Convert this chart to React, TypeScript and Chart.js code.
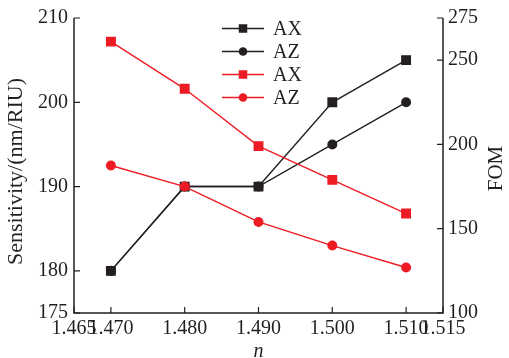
import React, { useEffect, useRef } from 'react';
import { Chart, registerables } from 'chart.js';

Chart.register(...registerables);

const nValues = [1.47, 1.48, 1.49, 1.5, 1.51];
const sensAX = [180, 190, 190, 200, 205];
const sensAZ = [180, 190, 190, 195, 200];
const fomAX = [261, 233, 199, 179, 159];
const fomAZ = [187.5, 175, 154, 140, 127];
const xTicks = [1.465, 1.47, 1.48, 1.49, 1.5, 1.51, 1.515];
const leftTicks = [175, 180, 190, 200, 210];
const rightTicks = [100, 150, 200, 250, 275];
const legendLabels = ['AX', 'AZ', 'AX', 'AZ'];
const xTitle = 'n';
const leftTitle = 'Sensitivity/(nm/RIU)';
const rightTitle = 'FOM';

const BLACK = '#231f20';
const RED = '#ed1c24';
const FONT = '"Liberation Serif", "Times New Roman", serif';

const legendItems = [
  { label: legendLabels[0], color: BLACK, style: 'rect' },
  { label: legendLabels[1], color: BLACK, style: 'circle' },
  { label: legendLabels[2], color: RED, style: 'rect' },
  { label: legendLabels[3], color: RED, style: 'circle' },
];

const axesPlugin = {
  id: 'axesPlugin',
  afterDraw(chart: any) {
    const ctx = chart.ctx;
    const { left, right, top, bottom } = chart.chartArea;
    const sx = chart.scales.x;
    const sy = chart.scales.y;
    const sy2 = chart.scales.y2;
    const tl = 6;
    ctx.save();
    ctx.strokeStyle = BLACK;
    ctx.lineWidth = 1.5;
    ctx.beginPath();
    ctx.moveTo(left, top);
    ctx.lineTo(left, bottom);
    ctx.lineTo(right, bottom);
    ctx.lineTo(right, top);
    ctx.stroke();
    ctx.lineWidth = 1.2;
    ctx.beginPath();
    xTicks.forEach((v) => {
      const px = sx.getPixelForValue(v);
      ctx.moveTo(px, bottom);
      ctx.lineTo(px, bottom - tl);
    });
    leftTicks.forEach((v) => {
      const py = sy.getPixelForValue(v);
      ctx.moveTo(left, py);
      ctx.lineTo(left + tl, py);
    });
    rightTicks.forEach((v) => {
      const py = sy2.getPixelForValue(v);
      ctx.moveTo(right, py);
      ctx.lineTo(right - tl, py);
    });
    ctx.stroke();

    // titles
    ctx.fillStyle = BLACK;
    ctx.textAlign = 'center';
    ctx.textBaseline = 'alphabetic';
    ctx.font = 'italic 20px ' + FONT;
    ctx.fillText(xTitle, (left + right) / 2, 357);

    const cy = (top + bottom) / 2;
    ctx.font = '22px ' + FONT;
    ctx.save();
    ctx.translate(16, cy + 6);
    ctx.rotate(-Math.PI / 2);
    ctx.textBaseline = 'middle';
    ctx.fillText(leftTitle, 0, 0);
    ctx.restore();

    ctx.font = '21px ' + FONT;
    ctx.save();
    ctx.translate(496, cy + 3);
    ctx.rotate(-Math.PI / 2);
    ctx.textBaseline = 'middle';
    ctx.fillText(rightTitle, 0, 0);
    ctx.restore();

    // legend
    const lx0 = left + 148;
    const lx1 = left + 190;
    const mx = (lx0 + lx1) / 2;
    ctx.font = '20px ' + FONT;
    ctx.textAlign = 'left';
    ctx.textBaseline = 'middle';
    legendItems.forEach((it, i) => {
      const y = top + 10.5 + i * 23;
      ctx.strokeStyle = it.color;
      ctx.lineWidth = 1.4;
      ctx.beginPath();
      ctx.moveTo(lx0, y);
      ctx.lineTo(lx1, y);
      ctx.stroke();
      ctx.fillStyle = it.color;
      if (it.style === 'rect') {
        ctx.fillRect(mx - 4.25, y - 4.25, 8.5, 8.5);
      } else {
        ctx.beginPath();
        ctx.arc(mx, y, 4.3, 0, Math.PI * 2);
        ctx.fill();
      }
      ctx.fillStyle = BLACK;
      ctx.fillText(it.label, lx1 + 9, y + 1);
    });
    ctx.restore();
  },
};

export default function App() {
  const ref = useRef<HTMLCanvasElement | null>(null);
  useEffect(() => {
    if (!ref.current) return;
    const mk = (vals: number[]) => nValues.map((x, i) => ({ x, y: vals[i] }));
    const chart = new Chart(ref.current, {
      type: 'line',
      data: {
        datasets: [
          {
            label: legendLabels[2],
            data: mk(fomAX),
            yAxisID: 'y2',
            borderColor: RED,
            backgroundColor: RED,
            pointStyle: 'rect',
            pointRadius: 6,
            borderWidth: 1.4,
            order: 0,
          },
          {
            label: legendLabels[3],
            data: mk(fomAZ),
            yAxisID: 'y2',
            borderColor: RED,
            backgroundColor: RED,
            pointStyle: 'circle',
            pointRadius: 4.3,
            borderWidth: 1.4,
            order: 1,
          },
          {
            label: legendLabels[0],
            data: mk(sensAX),
            yAxisID: 'y',
            borderColor: BLACK,
            backgroundColor: BLACK,
            pointStyle: 'rect',
            pointRadius: 6,
            borderWidth: 1.4,
            order: 2,
          },
          {
            label: legendLabels[1],
            data: mk(sensAZ),
            yAxisID: 'y',
            borderColor: BLACK,
            backgroundColor: BLACK,
            pointStyle: 'circle',
            pointRadius: 4.3,
            borderWidth: 1.4,
            order: 3,
          },
        ],
      },
      options: {
        animation: false,
        responsive: true,
        maintainAspectRatio: false,
        layout: { padding: { top: 17, left: 0, right: 0, bottom: 0 } },
        plugins: { legend: { display: false }, tooltip: { enabled: false } },
        elements: { point: { borderWidth: 0, hoverRadius: 0 }, line: { tension: 0 } },
        scales: {
          x: {
            type: 'linear',
            min: 1.465,
            max: 1.515,
            grid: { display: false, drawTicks: false },
            border: { display: false },
            afterBuildTicks: (s: any) => {
              s.ticks = xTicks.map((v) => ({ value: v }));
            },
            afterFit: (s: any) => {
              s.height = 45;
            },
            ticks: {
              padding: 4,
              color: BLACK,
              autoSkip: false,
              maxRotation: 0,
              font: { family: FONT, size: 20 },
              callback: (v: any) => Number(v).toFixed(3),
            },
          },
          y: {
            type: 'linear',
            position: 'left',
            min: 175,
            max: 210,
            grid: { display: false, drawTicks: false },
            border: { display: false },
            afterBuildTicks: (s: any) => {
              s.ticks = leftTicks.map((v) => ({ value: v }));
            },
            afterFit: (s: any) => {
              s.width = 74;
            },
            ticks: {
              padding: 6,
              color: BLACK,
              font: { family: FONT, size: 20 },
              callback: (v: any) => String(v),
            },
          },
          y2: {
            type: 'linear',
            position: 'right',
            min: 100,
            max: 275,
            grid: { display: false, drawTicks: false },
            border: { display: false },
            afterBuildTicks: (s: any) => {
              s.ticks = rightTicks.map((v) => ({ value: v }));
            },
            afterFit: (s: any) => {
              s.width = 66;
            },
            ticks: {
              padding: 5,
              color: BLACK,
              font: { family: FONT, size: 20 },
              callback: (v: any) => String(v),
            },
          },
        },
      },
      plugins: [axesPlugin],
    });
    return () => chart.destroy();
  }, []);
  return (
    <div style={{ position: 'absolute', left: 0, top: 0, width: 509, height: 358, background: '#fff' }}>
      <canvas ref={ref} />
    </div>
  );
}
